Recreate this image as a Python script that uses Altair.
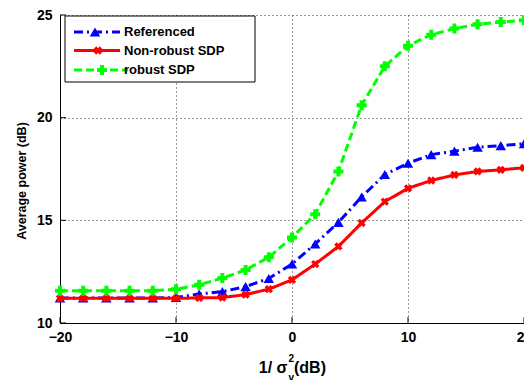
import altair as alt
import pandas as pd

# ---- data ----
x_db = [-20, -18, -16, -14, -12, -10, -8, -6, -4, -2, 0, 2, 4, 6, 8, 10, 12, 14, 16, 18, 20]
referenced = [11.22, 11.22, 11.22, 11.22, 11.22, 11.24, 11.41, 11.53, 11.77, 12.17, 12.87,
              13.85, 14.90, 16.14, 17.23, 17.78, 18.20, 18.37, 18.56, 18.64, 18.73]
non_robust = [11.20, 11.20, 11.20, 11.20, 11.20, 11.20, 11.22, 11.24, 11.38, 11.65, 12.10,
              12.87, 13.73, 14.87, 15.91, 16.56, 16.94, 17.21, 17.38, 17.46, 17.56]
robust = [11.57, 11.57, 11.57, 11.57, 11.57, 11.64, 11.86, 12.19, 12.58, 13.20, 14.17,
          15.30, 17.38, 20.60, 22.50, 23.50, 24.04, 24.34, 24.55, 24.66, 24.74]

x_ticks = [-20, -10, 0, 10, 20]
y_ticks = [10, 15, 20, 25]
legend_labels = ["Referenced", "Non-robust SDP", "robust SDP"]

FONT = "Liberation Sans"
W, H = 464, 308

df = pd.DataFrame({"x": x_db, "ref": referenced, "nonrob": non_robust, "rob": robust})
one = pd.DataFrame({"a": [0]})

xs = alt.Scale(domain=[-20, 20], nice=False, zero=False)
ys = alt.Scale(domain=[10, 25], nice=False, zero=False)

x_axis = alt.Axis(values=x_ticks, title=None, grid=True, ticks=False, labelPadding=7,
                  labelFont=FONT, labelFontSize=14, labelFontWeight="bold", labelColor="black",
                  domainColor="black", gridColor="black", gridDash=[1, 3], gridOpacity=0.8,
                  labelFlush=False)
y_axis = alt.Axis(values=y_ticks, title=None, grid=True, ticks=False, labelPadding=8,
                  labelFont=FONT, labelFontSize=14, labelFontWeight="bold", labelColor="black",
                  domainColor="black", gridColor="black", gridDash=[1, 3], gridOpacity=0.8)

base = alt.Chart(df)

def series(field, color, dash, shape, size, angle=0):
    line = base.mark_line(color=color, strokeWidth=3, strokeDash=dash).encode(
        x=alt.X("x:Q", scale=xs, axis=x_axis),
        y=alt.Y(f"{field}:Q", scale=ys, axis=y_axis),
    )
    pts = base.mark_point(shape=shape, filled=True, color=color, size=size, opacity=1,
                          angle=angle).encode(
        x=alt.X("x:Q", scale=xs),
        y=alt.Y(f"{field}:Q", scale=ys),
    )
    return [line, pts]

layers = []
layers += series("ref", "#0000FF", [9, 4, 2, 4], "triangle-up", 110)
layers += series("nonrob", "#FF0000", [1, 0], "cross", 70, 45)
layers += series("rob", "#00FF00", [8, 4], "cross", 100)

# inward ticks
xt = pd.DataFrame({"t": x_ticks})
yt = pd.DataFrame({"t": y_ticks})
layers.append(alt.Chart(xt).mark_rule(color="black", strokeWidth=1).encode(
    x=alt.X("t:Q", scale=xs), y=alt.value(H), y2=alt.value(H - 6)))
layers.append(alt.Chart(yt).mark_rule(color="black", strokeWidth=1).encode(
    y=alt.Y("t:Q", scale=ys), x=alt.value(0), x2=alt.value(6)))

# legend
layers.append(alt.Chart(one).mark_rect(fill="white", stroke="black", strokeWidth=1).encode(
    x=alt.value(5), x2=alt.value(195), y=alt.value(1), y2=alt.value(67)))
rows = [17, 35.5, 55]
leg_styles = [("#0000FF", [9, 4, 2, 4], "triangle-up", 110, 0, 35, 60),
              ("#FF0000", [1, 0], "cross", 70, 45, 38, 60),
              ("#00FF00", [8, 4], "cross", 100, 0, 42, 68)]
for lab, ry, (col, dash, shp, sz, ang, mx, x2) in zip(legend_labels, rows, leg_styles):
    layers.append(alt.Chart(one).mark_rule(color=col, strokeWidth=3, strokeDash=dash).encode(
        x=alt.value(14), x2=alt.value(x2), y=alt.value(ry)))
    layers.append(alt.Chart(one).mark_point(shape=shp, filled=True, color=col, size=sz,
                                            opacity=1, angle=ang).encode(
        x=alt.value(mx), y=alt.value(ry)))
    layers.append(alt.Chart(one).mark_text(align="left", baseline="middle", font=FONT,
                                           fontSize=13, fontWeight="bold", color="black").encode(
        x=alt.value(64), y=alt.value(ry), text=alt.value(lab)))

# axis titles
layers.append(alt.Chart(one).mark_text(angle=270, align="center", baseline="middle", font=FONT,
                                       fontSize=12.5, fontWeight="bold", color="black").encode(
    x=alt.value(-38), y=alt.value(166), text=alt.value("Average power (dB)")))
def txt(s, x, y, size, align="left"):
    return alt.Chart(one).mark_text(align=align, baseline="alphabetic", font=FONT,
                                    fontSize=size, fontWeight="bold", color="black").encode(
        x=alt.value(x), y=alt.value(y), text=alt.value(s))
layers.append(txt("1/ σ", 227.5, 358, 16, "right"))
layers.append(txt("2", 228.5, 347, 10))
layers.append(txt("v", 228.5, 366, 10))
layers.append(txt("(dB)", 234, 358, 16))

chart = alt.layer(*layers).properties(
    width=W, height=H,
    autosize=alt.AutoSizeParams(type="none"),
    padding={"left": 52, "top": 7, "right": 0, "bottom": 57},
).configure_view(stroke=None)

chart.save("out.html", embed_options={"renderer": "svg", "actions": False})
